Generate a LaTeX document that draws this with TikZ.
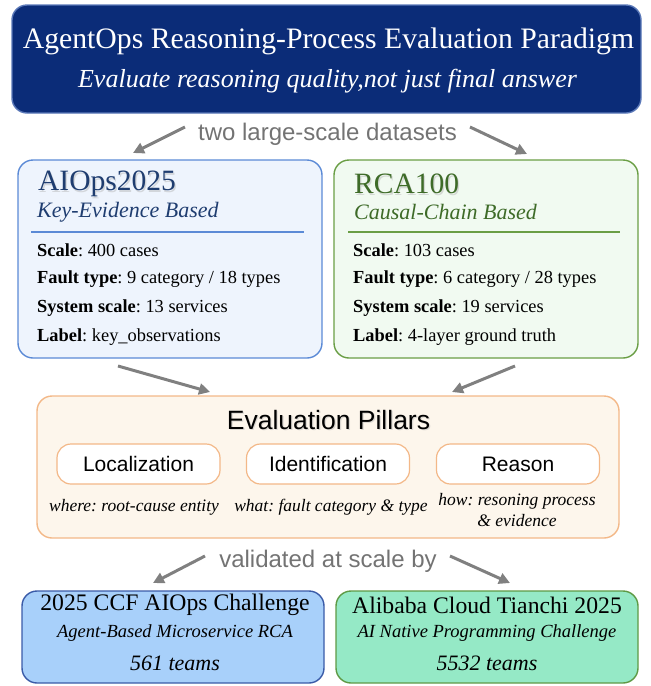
\documentclass[tikz,border=0pt]{standalone}
\usepackage{fontspec}
\setmainfont{Liberation Serif}
\setsansfont{Liberation Sans}
\usetikzlibrary{arrows.meta}
\frenchspacing
\definecolor{navy}{HTML}{0B2C78}
\definecolor{navyline}{HTML}{5A78B8}
\definecolor{blueline}{HTML}{5B8AD6}
\definecolor{bluefill}{HTML}{EEF4FD}
\definecolor{bluetitle}{HTML}{1F3D70}
\definecolor{greenline}{HTML}{6A9E45}
\definecolor{greenfill}{HTML}{F1FAF1}
\definecolor{greentitle}{HTML}{3E6B28}
\definecolor{orangeline}{HTML}{F3B888}
\definecolor{orangefill}{HTML}{FDF6EC}
\definecolor{arrowgray}{HTML}{808080}
\definecolor{lightblue}{HTML}{A8D0FA}
\definecolor{darkblue}{HTML}{3A5BA8}
\definecolor{mint}{HTML}{95E9C6}
\definecolor{mintline}{HTML}{5E9A45}
\begin{document}
\begin{tikzpicture}[x=1pt,y=-1pt,
  box/.style={rounded corners=15pt,line width=1.4pt,inner sep=0pt},
  pill/.style={draw=orangeline,fill=white,rounded corners=14pt,line width=1.2pt,
    minimum width=163pt,minimum height=40pt,inner sep=0pt,
    font=\sffamily\fontsize{21}{24}\selectfont},
  garrow/.style={draw=arrowgray,line width=3pt,-{Triangle[length=11pt,width=11pt]}},
  gray label/.style={text=arrowgray!90!black,font=\sffamily\fontsize{24}{26}\selectfont},
  item/.style={anchor=west,font=\fontsize{18.4}{20}\selectfont,inner sep=0pt},
  dtitle/.style={anchor=west,font=\fontsize{29.5}{32}\selectfont,inner sep=0pt},
  dsub/.style={anchor=west,font=\itshape\fontsize{22}{25}\selectfont,inner sep=0pt},
  desc/.style={font=\itshape\fontsize{17.5}{21}\selectfont,align=center,inner sep=0pt},
  shadowtext/.style={text=black!30,opacity=0.45},
]
\useasboundingbox (0,0) rectangle (651,686);
% ---------- top box ----------
\node[box,draw=navyline,fill=navy,minimum width=629pt,minimum height=108pt] (top) at (326.5,59) {};
\node[text=white,font=\fontsize{29.7}{32}\selectfont,inner sep=0pt] (toptitle) at (328.5,41) {AgentOps Reasoning-Process Evaluation Paradigm};
\node[text=white,font=\itshape\fontsize{26}{29}\selectfont,inner sep=0pt] (topsub) at (327.5,81) {Evaluate reasoning quality,not just final answer};
% label
\node[gray label,inner sep=0pt] (two) at (327.5,134) {two large-scale datasets};
\coordinate (a1s) at (185,127); \coordinate (a1e) at (133,153);
\coordinate (a2s) at (470,127); \coordinate (a2e) at (527,154);
\draw[garrow] (a1s) -- (a1e);
\draw[garrow] (a2s) -- (a2e);
% ---------- dataset boxes ----------
\node[box,draw=blueline,fill=bluefill,minimum width=304pt,minimum height=198pt] (aiops) at (170,259) {};
\node[dtitle,shadowtext] at (39.2,185.5) {AIOps2025};
\node[dtitle,text=bluetitle] (aiopst) at (38,184) {AIOps2025};
\node[dsub,text=bluetitle] (aiopss) at (37,212) {Key-Evidence Based};
\coordinate (al1) at (31,232); \coordinate (al2) at (304,232);
\draw[blueline,line width=1.4pt] (al1) -- (al2);
\node[item] (ai1) at (37,250) {\textbf{Scale}: 400 cases};
\node[item] (ai2) at (37,279) {\textbf{Fault type}: 9 category / 18 types};
\node[item] (ai3) at (37,308) {\textbf{System scale}: 13 services};
\node[item] (ai4) at (37,337) {\textbf{Label}: key\_observations};

\node[box,draw=greenline,fill=greenfill,minimum width=304pt,minimum height=198pt] (rca) at (486,259) {};
\node[dtitle,shadowtext] at (355.2,185.5) {RCA100};
\node[dtitle,text=greentitle] (rcat) at (354,184) {RCA100};
\node[dsub,text=greentitle] (rcas) at (354,212) {Causal-Chain Based};
\coordinate (rl1) at (348,232); \coordinate (rl2) at (620,232);
\draw[greenline,line width=1.4pt] (rl1) -- (rl2);
\node[item] (r1) at (353,250) {\textbf{Scale}: 103 cases};
\node[item] (r2) at (353,279) {\textbf{Fault type}: 6 category / 28 types};
\node[item] (r3) at (353,308) {\textbf{System scale}: 19 services};
\node[item] (r4) at (353,337) {\textbf{Label}: 4-layer ground truth};
% arrows to pillars
\coordinate (b1s) at (118,366); \coordinate (b1e) at (210,392);
\coordinate (b2s) at (515,366); \coordinate (b2e) at (452,392);
\draw[garrow] (b1s) -- (b1e);
\draw[garrow] (b2s) -- (b2e);
% ---------- pillars ----------
\node[box,draw=orangeline,fill=orangefill,minimum width=582pt,minimum height=142pt] (pill) at (328,467) {};
\node[font=\sffamily\fontsize{26.5}{29}\selectfont,shadowtext,inner sep=0pt] at (329.7,421.5) {Evaluation Pillars};
\node[font=\sffamily\fontsize{26.5}{29}\selectfont,inner sep=0pt] (pillt) at (328.5,420) {Evaluation Pillars};
\node[pill] (loc) at (138.5,464) {Localization};
\node[pill] (ide) at (328,464) {Identification};
\node[pill] (rea) at (518,464) {Reason};
\node[desc] (locd) at (134,507) {where: root-cause entity};
\node[desc] (ided) at (331,507) {what: fault category \& type};
\node[desc] (read) at (517,510) {how: resoning process\\\& evidence};
% label
\node[gray label,inner sep=0pt] (val) at (328,561) {validated at scale by};
\coordinate (c1s) at (205,556); \coordinate (c1e) at (153,583);
\coordinate (c2s) at (450,556); \coordinate (c2e) at (510,583);
\draw[garrow] (c1s) -- (c1e);
\draw[garrow] (c2s) -- (c2e);
% ---------- bottom boxes ----------
\node[box,draw=darkblue,fill=lightblue,minimum width=302pt,minimum height=92pt] (ccf) at (173,637) {};
\node[font=\fontsize{23.7}{26}\selectfont,inner sep=0pt] (ccft) at (175,605) {2025 CCF AIOps Challenge};
\node[font=\itshape\fontsize{18.5}{21}\selectfont,inner sep=0pt] (ccfs) at (175,633) {Agent-Based Microservice RCA};
\node[font=\itshape\fontsize{22}{24}\selectfont,inner sep=0pt] (ccfn) at (175,663) {561 teams};

\node[box,draw=mintline,fill=mint,minimum width=302pt,minimum height=92pt] (ali) at (487,637) {};
\node[font=\fontsize{23.7}{26}\selectfont,inner sep=0pt] (alit) at (487,605) {Alibaba Cloud Tianchi 2025};
\node[font=\itshape\fontsize{18.5}{21}\selectfont,inner sep=0pt] (alis) at (487,633) {AI Native Programming Challenge};
\node[font=\itshape\fontsize{22}{24}\selectfont,inner sep=0pt] (alin) at (487,663) {5532 teams};
\end{tikzpicture}
\end{document}
